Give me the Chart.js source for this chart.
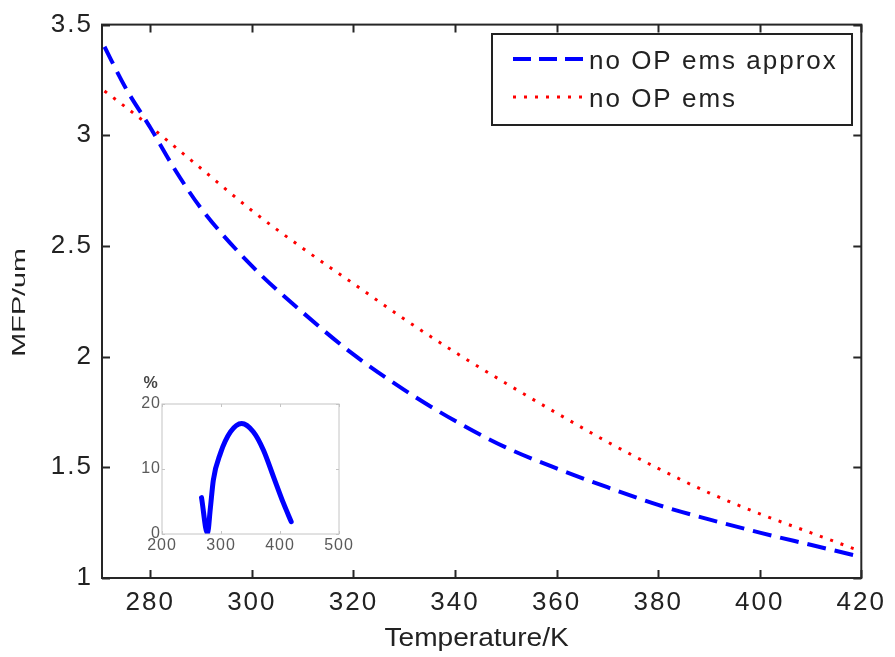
<!DOCTYPE html>
<html>
<head>
<meta charset="utf-8">
<script src="https://cdn.jsdelivr.net/npm/chart.js@4"></script>
<style>
  html, body { margin: 0; padding: 0; background: #fff; }
  #wrap { position: relative; width: 895px; height: 657px; }
  #main { position: absolute; left: 0; top: 0; }
  #inset { position: absolute; left: 130px; top: 370px; }
</style>
</head>
<body>
<div id="wrap">
  <canvas id="main" width="895" height="657"></canvas>
  <canvas id="inset" width="230" height="195"></canvas>
</div>
<script>
// main curves
var temps = [271, 275, 280, 285, 290, 300, 310, 320, 330, 340, 350, 360, 370, 380, 390, 400, 410, 420];
var mfpApprox = [3.40, 3.22, 3.035, 2.84, 2.67, 2.41, 2.20, 2.01, 1.85, 1.71, 1.59, 1.495, 1.41, 1.33, 1.265, 1.205, 1.15, 1.095];
var mfpExact = [3.20, 3.13, 3.04, 2.945, 2.85, 2.66, 2.49, 2.33, 2.17, 2.02, 1.88, 1.745, 1.615, 1.495, 1.385, 1.29, 1.205, 1.12];
var seriesLabels = ['no OP ems approx', 'no OP ems'];
var xTicks = [280, 300, 320, 340, 360, 380, 400, 420];
var yTicks = [1, 1.5, 2, 2.5, 3, 3.5];
var xTitle = 'Temperature/K';
var yTitle = 'MFP/um';

// inset: difference in %
var insetTemps = [267, 277, 282, 287, 299, 316, 335, 355, 372, 389, 406, 419];
var insetPercent = [5.6, 0.1, 4.0, 8.3, 12.4, 15.7, 17.0, 15.7, 12.9, 8.8, 4.7, 1.9];
var insetXTicks = [200, 300, 400, 500];
var insetYTicks = [0, 10, 20];

var FONT = '"Liberation Sans", Arial, Helvetica, sans-serif';
Chart.defaults.font.family = FONT;
Chart.defaults.color = '#222';

function setTicks(list) {
  return function (scale) {
    scale.ticks = list.map(function (v) { return { value: v }; });
  };
}

function xy(xs, ys) {
  return xs.map(function (x, i) { return { x: x, y: ys[i] }; });
}

// the reference text is spaced out a little
var spacing = {
  id: 'spacing',
  beforeLayout: function (chart, args, opts) { chart.ctx.letterSpacing = opts.px + 'px'; },
  beforeDraw: function (chart, args, opts) { chart.ctx.letterSpacing = opts.px + 'px'; }
};

// box round the plot with inward ticks on all four sides
var framePlugin = {
  id: 'frame',
  afterDatasetsDraw: function (chart, args, opts) {
    var a = chart.chartArea, ctx = chart.ctx;
    var sx = chart.scales.x, sy = chart.scales.y;
    var len = opts.len;
    ctx.save();
    ctx.strokeStyle = opts.color;
    ctx.lineWidth = opts.width;
    ctx.beginPath();
    sx.ticks.forEach(function (t) {
      var px = Math.round(sx.getPixelForValue(t.value)) + 0.5;
      ctx.moveTo(px, a.bottom); ctx.lineTo(px, a.bottom - len);
      ctx.moveTo(px, a.top); ctx.lineTo(px, a.top + len);
    });
    sy.ticks.forEach(function (t) {
      var py = Math.round(sy.getPixelForValue(t.value)) + 0.5;
      ctx.moveTo(a.left, py); ctx.lineTo(a.left + len, py);
      ctx.moveTo(a.right, py); ctx.lineTo(a.right - len, py);
    });
    ctx.stroke();
    ctx.strokeRect(a.left, a.top, a.right - a.left, a.bottom - a.top);
    if (opts.mark) {
      ctx.fillStyle = '#444';
      ctx.font = 'bold 16px ' + FONT;
      ctx.textAlign = 'center';
      ctx.textBaseline = 'middle';
      ctx.fillText(opts.mark, a.left - 11, a.top - 20);
    }
    ctx.restore();
  }
};

// axis titles, the y one stretched along its length like the original
var axisTitles = {
  id: 'axisTitles',
  afterDraw: function (chart, args, opts) {
    var a = chart.chartArea, ctx = chart.ctx;
    ctx.save();
    ctx.fillStyle = '#222';
    ctx.textAlign = 'center';
    ctx.textBaseline = 'middle';
    ctx.letterSpacing = '0px';

    ctx.save();
    ctx.translate((a.left + a.right) / 2 - 5, opts.xTitleY);
    ctx.scale(1.08, 1);
    ctx.font = '26px ' + FONT;
    ctx.fillText(xTitle, 0, 0);
    ctx.restore();

    ctx.save();
    ctx.translate(opts.yTitleX, (a.top + a.bottom) / 2 + 1);
    ctx.rotate(-Math.PI / 2);
    ctx.scale(1.6, 1);
    ctx.font = '18px ' + FONT;
    ctx.fillText(yTitle, 0, 0);
    ctx.restore();

    ctx.restore();
  }
};

// legend box in the top right corner
var boxLegend = {
  id: 'boxLegend',
  afterDraw: function (chart) {
    var ctx = chart.ctx;
    var x0 = 492, y0 = 34, w = 360, h = 91;
    ctx.save();
    ctx.fillStyle = '#fff';
    ctx.fillRect(x0, y0, w, h);
    ctx.strokeStyle = '#222';
    ctx.lineWidth = 2;
    ctx.strokeRect(x0, y0, w, h);
    chart.data.datasets.forEach(function (ds, i) {
      var y = 59 + i * 38;
      ctx.strokeStyle = ds.borderColor;
      ctx.lineWidth = ds.borderWidth;
      ctx.setLineDash(i === 0 ? [18, 8] : ds.borderDash);
      ctx.beginPath();
      ctx.moveTo(513, y);
      ctx.lineTo(583, y);
      ctx.stroke();
      ctx.setLineDash([]);
      ctx.fillStyle = '#222';
      ctx.font = '26px ' + FONT;
      ctx.textBaseline = 'middle';
      ctx.fillText(ds.label, 589, y + 3);
    });
    ctx.restore();
  }
};

new Chart(document.getElementById('main'), {
  type: 'line',
  data: {
    datasets: [{
      label: seriesLabels[0],
      data: xy(temps, mfpApprox),
      borderColor: '#0000ff',
      borderWidth: 4,
      borderDash: [19, 9],
      pointRadius: 0,
      cubicInterpolationMode: 'monotone'
    }, {
      label: seriesLabels[1],
      data: xy(temps, mfpExact),
      borderColor: '#ff0000',
      borderWidth: 3,
      borderDash: [3, 8],
      pointRadius: 0,
      cubicInterpolationMode: 'monotone'
    }]
  },
  options: {
    responsive: false,
    animation: false,
    devicePixelRatio: 1,
    layout: { padding: { left: 0, right: 33, top: 19, bottom: 0 } },
    plugins: {
      legend: { display: false },
      tooltip: { enabled: false },
      spacing: { px: 2 },
      frame: { color: '#262626', width: 2, len: 8 },
      axisTitles: { xTitleY: 639, yTitleX: 20 }
    },
    scales: {
      x: {
        type: 'linear', min: 270.5, max: 420,
        afterBuildTicks: setTicks(xTicks),
        afterFit: function (s) { s.height = 79; },
        grid: { display: false, drawTicks: false },
        border: { display: false },
        ticks: { font: { size: 26 }, padding: 9, maxRotation: 0, autoSkip: false,
                 callback: function (v) { return String(v); } }
      },
      y: {
        type: 'linear', min: 1, max: 3.5,
        afterBuildTicks: setTicks(yTicks),
        afterFit: function (s) { s.width = 102; },
        grid: { display: false, drawTicks: false },
        border: { display: false },
        ticks: { font: { size: 26 }, padding: 9, autoSkip: false,
                 callback: function (v) { return String(v); } }
      }
    }
  },
  plugins: [spacing, framePlugin, axisTitles, boxLegend]
});

new Chart(document.getElementById('inset'), {
  type: 'line',
  data: {
    datasets: [{
      data: xy(insetTemps, insetPercent),
      borderColor: '#0000ff',
      borderWidth: 5,
      borderCapStyle: 'round',
      borderJoinStyle: 'round',
      pointRadius: 0,
      cubicInterpolationMode: 'monotone'
    }]
  },
  options: {
    responsive: false,
    animation: false,
    devicePixelRatio: 1,
    layout: { padding: { left: 0, right: 21, top: 34, bottom: 0 } },
    plugins: {
      legend: { display: false },
      tooltip: { enabled: false },
      spacing: { px: 1 },
      frame: { color: '#c4c4c4', width: 1, len: 3, mark: '%' }
    },
    scales: {
      x: {
        type: 'linear', min: 200, max: 500,
        afterBuildTicks: setTicks(insetXTicks),
        afterFit: function (s) { s.height = 31; },
        grid: { display: false, drawTicks: false },
        border: { display: false },
        ticks: { font: { size: 16 }, color: '#5a5a5a', padding: 2, maxRotation: 0, autoSkip: false }
      },
      y: {
        type: 'linear', min: 0, max: 20,
        afterBuildTicks: setTicks(insetYTicks),
        afterFit: function (s) { s.width = 32; },
        grid: { display: false, drawTicks: false },
        border: { display: false },
        ticks: { font: { size: 16 }, color: '#5a5a5a', padding: 1, autoSkip: false }
      }
    }
  },
  plugins: [spacing, framePlugin]
});
</script>
</body>
</html>
